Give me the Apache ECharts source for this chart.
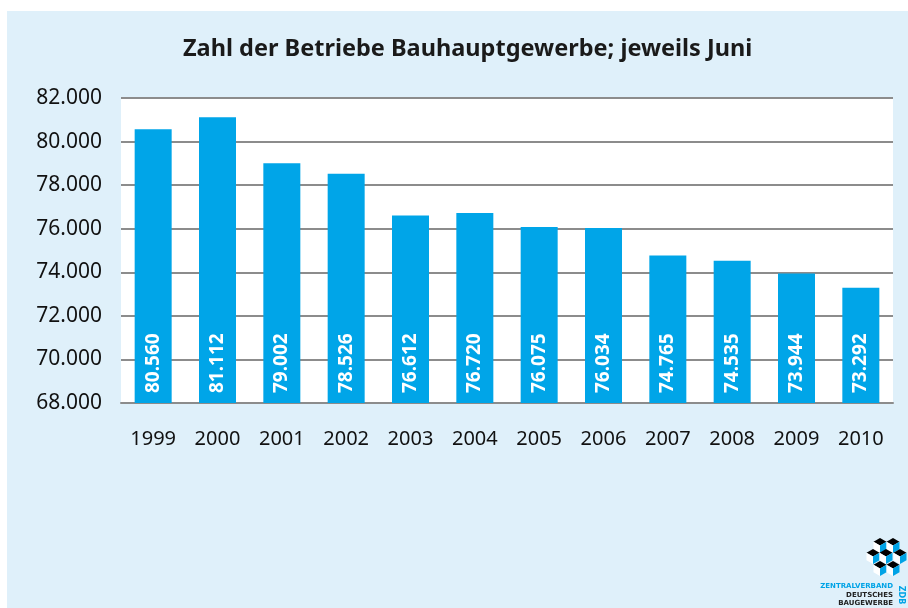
<!DOCTYPE html>
<html>
<head>
<meta charset="utf-8">
<script src="https://cdn.jsdelivr.net/npm/echarts@6/dist/echarts.min.js"></script>
<style>
  html, body { margin: 0; padding: 0; background: #fff; }
  #main { width: 908px; height: 608px; }
</style>
</head>
<body>
<div id="main"></div>
<script type="text/javascript">
    var years = ['1999', '2000', '2001', '2002', '2003', '2004', '2005', '2006', '2007', '2008', '2009', '2010'];
    var betriebe = [80560, 81112, 79002, 78526, 76612, 76720, 76075, 76034, 74765, 74535, 73944, 73292];
    var yTicks = [68000, 70000, 72000, 74000, 76000, 78000, 80000, 82000];

    // deutsche Tausenderpunkte
    function fmt(v) {
        return String(v).replace(/\B(?=(\d{3})+(?!\d))/g, '.');
    }

    // ZDB-Logo: kleine Würfel unten rechts (nur Dekoration)
    function cube(cx, top) {
        var w = 13, h = 15;
        return [
            { type: 'polygon', shape: { points: [[cx, top], [cx + w / 2, top + h / 4], [cx, top + h / 2], [cx - w / 2, top + h / 4]] }, style: { fill: '#000' } },
            { type: 'polygon', shape: { points: [[cx - w / 2, top + h / 4], [cx, top + h / 2], [cx, top + h], [cx - w / 2, top + h * 3 / 4]] }, style: { fill: '#fff' } },
            { type: 'polygon', shape: { points: [[cx + w / 2, top + h / 4], [cx, top + h / 2], [cx, top + h], [cx + w / 2, top + h * 3 / 4]] }, style: { fill: '#00a3e6' } }
        ];
    }
    var logo = [];
    [[880, 538], [893, 538], [873, 549], [886, 549], [900, 549], [880, 561], [893, 561]].forEach(function (p) {
        logo = logo.concat(cube(p[0], p[1]));
    });
    logo.push(
        { type: 'text', style: { text: 'ZENTRALVERBAND', x: 893, y: 586, align: 'right', verticalAlign: 'middle', fill: '#00a3e6', font: 'bold 7px "DejaVu Sans"' } },
        { type: 'text', style: { text: 'DEUTSCHES', x: 893, y: 595, align: 'right', verticalAlign: 'middle', fill: '#222', font: 'bold 7px "DejaVu Sans"' } },
        { type: 'text', style: { text: 'BAUGEWERBE', x: 893, y: 603, align: 'right', verticalAlign: 'middle', fill: '#222', font: 'bold 7px "DejaVu Sans"' } },
        { type: 'text', x: 901, y: 595, rotation: -Math.PI / 2, style: { text: 'ZDB', x: 0, y: 0, align: 'center', verticalAlign: 'middle', fill: '#00a3e6', font: 'bold 8px "DejaVu Sans"' } }
    );

    var myChart = echarts.init(document.getElementById('main'));
    var option = {
        backgroundColor: '#fff',
        animation: false,
        title: {
            text: 'Zahl der Betriebe Bauhauptgewerbe; jeweils Juni',
            left: 178,
            top: 32,
            textStyle: { fontFamily: 'Noto Sans', fontWeight: 'bold', fontSize: 23.5, color: '#1a1a1a' }
        },
        graphic: [
            { type: 'rect', z: -10, silent: true, shape: { x: 7, y: 11, width: 901, height: 597 }, style: { fill: '#dff0fa' } }
        ].concat(logo),
        grid: {
            left: 121,
            right: 15,
            top: 98,
            height: 305,
            show: true,
            backgroundColor: '#fff',
            borderWidth: 0
        },
        xAxis: {
            type: 'category',
            data: years,
            axisTick: { show: false },
            axisLine: { lineStyle: { color: '#8c8c8c', width: 2 } },
            axisLabel: { color: '#111', fontFamily: 'Noto Sans', fontSize: 20, margin: 26 }
        },
        yAxis: {
            type: 'value',
            min: yTicks[0],
            max: yTicks[yTicks.length - 1],
            interval: 2000,
            axisLine: { show: false },
            axisTick: { show: false },
            splitLine: { lineStyle: { color: '#8c8c8c', width: 2 } },
            axisLabel: { color: '#111', fontFamily: 'Noto Sans', fontSize: 21, margin: 19, formatter: fmt }
        },
        series: [
            {
                name: 'Betriebe',
                type: 'bar',
                data: betriebe,
                barWidth: 37,
                itemStyle: { color: '#00a5e8' },
                label: {
                    show: true,
                    position: 'insideBottom',
                    distance: 10,
                    rotate: 90,
                    align: 'left',
                    verticalAlign: 'middle',
                    color: '#fff',
                    fontFamily: 'Noto Sans',
                    fontWeight: 'bold',
                    fontSize: 19,
                    formatter: function (p) { return fmt(p.value); }
                }
            }
        ]
    };
    myChart.setOption(option, true);
</script>
</body>
</html>
